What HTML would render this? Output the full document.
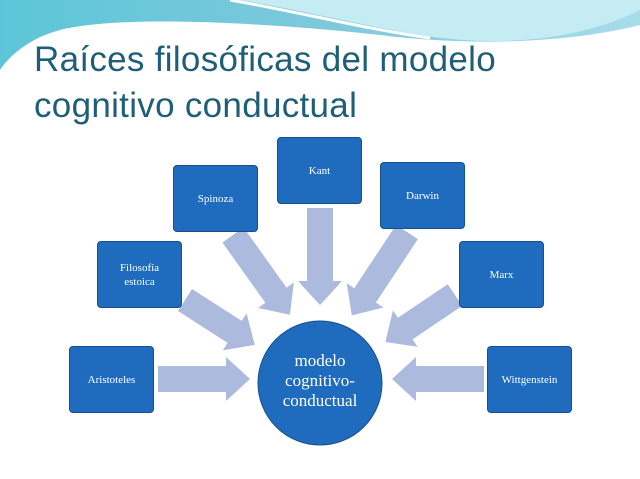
<!DOCTYPE html>
<html><head><meta charset="utf-8"><style>
body{margin:0;width:640px;height:479px;overflow:hidden;background:#fff;font-family:"Liberation Serif",serif}
.t{position:absolute;left:34px;color:#1e5e78;font-family:"Liberation Sans",sans-serif;font-size:35px;letter-spacing:0.3px;line-height:40px}
.b{position:absolute;width:85px;height:67px;background:#1f6cbf;border:1px solid #174f8c;border-radius:4px;color:#fff;font-size:11px;display:flex;align-items:center;justify-content:center;text-align:center;line-height:14px;box-sizing:border-box}
</style></head><body>
<svg width="640" height="479" style="position:absolute;left:0;top:0">
<defs><linearGradient id="g" x1="0" y1="0" x2="1" y2="0"><stop offset="0" stop-color="#5cc6d8"/><stop offset=".5" stop-color="#7ec8dc"/><stop offset="1" stop-color="#a8dcea"/></linearGradient></defs>
<path d="M0 0H640V25C560 45 460 45 380 35C260 22 120 15 60 30C30 38 10 55 0 70Z" fill="url(#g)"/>
<path d="M240 0C300 10 360 25 420 35C500 48 580 40 640 10V0Z" fill="#c6ecf3"/>
<path d="M230 0C300 12 360 28 430 38" stroke="#fff" stroke-width="3" fill="none"/>
<g fill="#abbadd">
<g transform="translate(158,379) rotate(0)"><polygon points="0,-13 68,-13 68,-22 92,0 68,22 68,13 0,13"/></g>
<g transform="translate(484,379) rotate(180)"><polygon points="0,-13 68,-13 68,-22 92,0 68,22 68,13 0,13"/></g>
<g transform="translate(320,208) rotate(90)"><polygon points="0,-13 73,-13 73,-22 97,0 73,22 73,13 0,13"/></g>
<g transform="translate(185,300) rotate(32.7)"><polygon points="0,-13 59,-13 59,-22 83,0 59,22 59,13 0,13"/></g>
<g transform="translate(233,235) rotate(54.5)"><polygon points="0,-13 74,-13 74,-22 98,0 74,22 74,13 0,13"/></g>
<g transform="translate(407,232) rotate(123.5)"><polygon points="0,-13 76,-13 76,-22 100,0 76,22 76,13 0,13"/></g>
<g transform="translate(455,295) rotate(146)"><polygon points="0,-13 60,-13 60,-22 84,0 60,22 60,13 0,13"/></g>
</g>
<circle cx="320" cy="383" r="62" fill="#1f6cbf" stroke="#174f8c"/>
<text x="320" y="366" fill="#fff" font-size="17" text-anchor="middle" font-family="Liberation Serif">modelo</text>
<text x="320" y="386" fill="#fff" font-size="17" text-anchor="middle" font-family="Liberation Serif">cognitivo-</text>
<text x="320" y="406" fill="#fff" font-size="17" text-anchor="middle" font-family="Liberation Serif">conductual</text>
</svg>
<div class="t" style="top:40px">Raíces filosóficas del modelo</div>
<div class="t" style="top:86px">cognitivo conductual</div>
<div class="b" style="left:69px;top:346px">Aristoteles</div>
<div class="b" style="left:97px;top:241px">Filosofía<br>estoica</div>
<div class="b" style="left:173px;top:165px">Spinoza</div>
<div class="b" style="left:277px;top:137px">Kant</div>
<div class="b" style="left:380px;top:162px">Darwin</div>
<div class="b" style="left:459px;top:241px">Marx</div>
<div class="b" style="left:487px;top:346px">Wittgenstein</div>
</body></html>
